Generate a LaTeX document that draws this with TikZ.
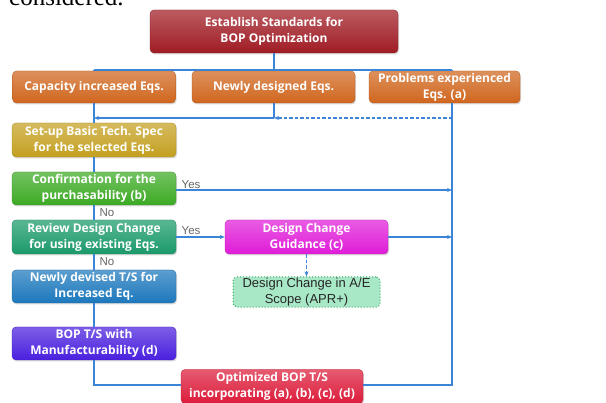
\documentclass[tikz,border=0pt]{standalone}
\usepackage{fontspec}
\setmainfont{Liberation Sans}
\newfontfamily\boxfont{Open Sans}
\newfontfamily\seriffont{Liberation Serif}
\usetikzlibrary{arrows.meta,shadows}
\definecolor{lineblue}{HTML}{3C84D6}
\definecolor{cTop}{HTML}{A01C24}
\definecolor{cOrange}{HTML}{D0661E}
\definecolor{cSetup}{HTML}{C4A020}
\definecolor{cConf}{HTML}{3CAA24}
\definecolor{cRev}{HTML}{1A9A6A}
\definecolor{cMag}{HTML}{E01CD8}
\definecolor{cNewDev}{HTML}{1C78BC}
\definecolor{cBop}{HTML}{4A20DE}
\definecolor{cOpt}{HTML}{DC1C3A}
\definecolor{cAEfill}{HTML}{A8E8C6}
\definecolor{cAEdraw}{HTML}{34A864}
\tikzset{
  fbox/.style={rounded corners=4pt, minimum height=33pt, inner sep=1pt,
    align=center, text=white,
    font=\boxfont\bfseries\fontsize{12}{16}\selectfont,
    top color=#1!72!white, bottom color=#1, draw=#1!85!black, line width=0.3pt,
    drop shadow={opacity=0.3, shadow xshift=1pt, shadow yshift=-1.5pt}},
  conn/.style={draw=lineblue, line width=1.1pt},
  arr/.style={conn, -{Stealth[length=5pt,width=4pt]}},
  dasharr/.style={arr, dash pattern=on 3.5pt off 2pt},
  yn/.style={font=\fontsize{11.5}{12}\selectfont, text=black!60, inner sep=0pt},
}
\begin{document}
\begin{tikzpicture}[x=1pt,y=-1pt]
\useasboundingbox (0,0) rectangle (606,403);
\clip (0,0) rectangle (606,403);
\node[anchor=base west, inner sep=0pt, font=\seriffont\fontsize{25}{25}\selectfont] (cons) at (9,6) {considered.};

\node[fbox=cTop, minimum width=248pt, minimum height=43pt] (top) at (274,31.5) {Establish Standards for\\BOP Optimization};
\node[fbox=cOrange, minimum width=163pt, minimum height=32pt] (cap) at (94,87) {Capacity increased Eqs.};
\node[fbox=cOrange, minimum width=163pt, minimum height=32pt] (newly) at (273.5,87) {Newly designed Eqs.};
\node[fbox=cOrange, minimum width=151pt, minimum height=32pt] (prob) at (444.5,87) {Problems experienced\\Eqs. (a)};
\node[fbox=cSetup, minimum width=164pt, minimum height=34pt] (setup) at (94,140) {Set-up Basic Tech. Spec\\for the selected Eqs.};
\node[fbox=cConf, minimum width=164pt, minimum height=33pt] (conf) at (94,188.5) {Confirmation for the\\purchasability (b)};
\node[fbox=cRev, minimum width=164pt, minimum height=34pt] (rev) at (94,237) {Review Design Change\\for using existing Eqs.};
\node[fbox=cMag, minimum width=163pt, minimum height=34pt] (mag) at (306.5,237) {Design Change\\Guidance (c)};
\node[fbox=cNewDev, minimum width=164pt, minimum height=33pt] (newdev) at (94,286.5) {Newly devised T/S for\\Increased Eq.};
\node[fbox=cBop, minimum width=164pt, minimum height=33pt] (bop) at (94,343.5) {BOP T/S with\\Manufacturability (d)};
\node[fbox=cOpt, minimum width=182pt, minimum height=34pt] (opt) at (272,386.5) {Optimized BOP T/S\\incorporating (a), (b), (c), (d)};
\node[rounded corners=4pt, minimum width=147pt, minimum height=30pt, inner sep=1pt, align=center,
  fill=cAEfill, draw=cAEdraw, line width=1pt, dotted, text=black!85,
  font=\fontsize{13}{16}\selectfont] (ae) at (306.5,292) {Design Change in A/E\\Scope (APR+)};

% junction coordinates
\coordinate (tj) at (274,70);
\coordinate (lx) at (94,70);
\coordinate (rx) at (452,70);
\coordinate (mj) at (274,118);
\coordinate (lj) at (94,118);
\coordinate (rj) at (452,118);
\coordinate (lb) at (94,385);
\coordinate (rb) at (452,385);

% top distribution
\draw[conn] (top.south) -- (tj);
\draw[conn] (lx) -- (rx);
\draw[conn] (lx) -- (cap.north);
\draw[conn] (rx) -- (prob.north -| rx);
% merge into left column
\draw[conn] (newly.south -| mj) -- (mj);
\draw[arr] (mj) -- (lj);
\draw[dasharr] (rj) -- (mj);
% left column
\draw[conn] (cap.south) -- (setup.north);
\draw[conn] (setup.south) -- (conf.north);
\draw[conn] (conf.south) -- node[yn, anchor=west, pos=0.5, xshift=5pt] (no1) {No} (rev.north);
\draw[conn] (rev.south) -- node[yn, anchor=west, pos=0.45, xshift=5pt] (no2) {No} (newdev.north);
\draw[conn] (newdev.south) -- (bop.north);
\draw[conn] (bop.south) -- (lb) -- (opt.west |- lb);
% right column
\draw[conn] (prob.south -| rx) -- (rb) -- (opt.east |- rb);
\draw[arr] (conf.east |- 0,190) -- node[yn, anchor=south west, pos=0, xshift=5pt, yshift=1pt] (yes1) {Yes} (rx |- 0,190);
\draw[arr] (rev.east) -- node[yn, anchor=south west, pos=0, xshift=5pt, yshift=2pt] (yes2) {Yes} (mag.west);
\draw[arr] (mag.east) -- (rx |- mag.east);
\draw[dasharr] (mag.south -| ae.north) -- (ae.north);
\end{tikzpicture}
\end{document}
